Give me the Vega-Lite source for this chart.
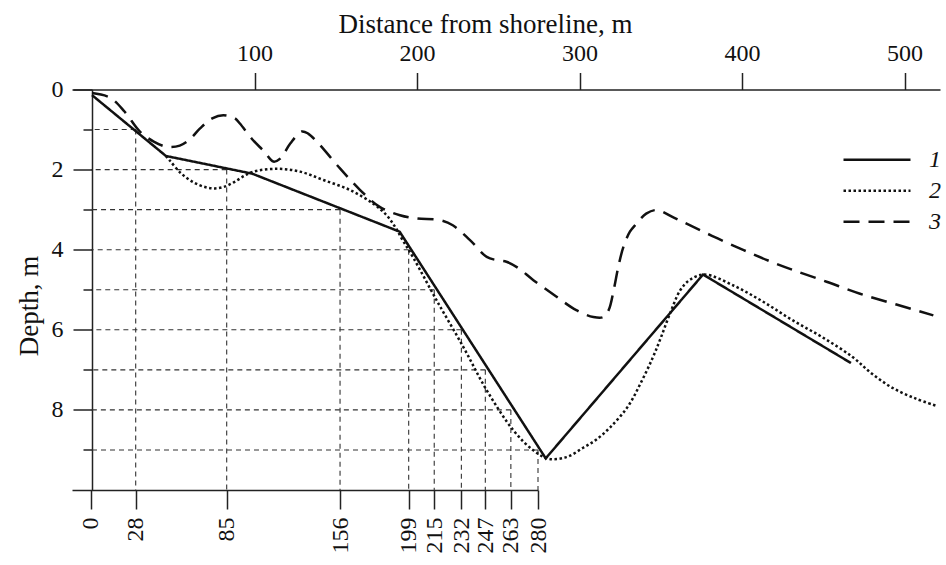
{
  "$schema": "https://vega.github.io/schema/vega-lite/v6.json",
  "width": 868,
  "height": 400.5,
  "autosize": "none",
  "padding": {"left": 72, "top": 89.5, "right": 6, "bottom": 75},
  "background": "white",
  "config": {
    "view": {"stroke": null},
    "font": "Liberation Serif",
    "axis": {
      "labelFont": "Liberation Serif",
      "titleFont": "Liberation Serif",
      "labelColor": "#111",
      "titleColor": "#111",
      "domainColor": "#222",
      "tickColor": "#222",
      "domainWidth": 1.5,
      "tickWidth": 1.5,
      "grid": false,
      "labelFontWeight": "normal",
      "titleFontWeight": "normal",
      "labelFontSize": 24,
      "titleFontSize": 27
    }
  },
  "datasets": {
    "profiles": [
      {"series": "1", "distance": 0, "depth": 0.14},
      {"series": "1", "distance": 45.5, "depth": 1.66},
      {"series": "1", "distance": 98.5, "depth": 2.1},
      {"series": "1", "distance": 189.3, "depth": 3.55},
      {"series": "1", "distance": 279.2, "depth": 9.21},
      {"series": "1", "distance": 376, "depth": 4.62},
      {"series": "1", "distance": 467, "depth": 6.83},

      {"series": "2", "distance": 45.5, "depth": 1.66},
      {"series": "2", "distance": 48, "depth": 1.78},
      {"series": "2", "distance": 55, "depth": 2.1},
      {"series": "2", "distance": 63, "depth": 2.33},
      {"series": "2", "distance": 70, "depth": 2.44},
      {"series": "2", "distance": 75.7, "depth": 2.47},
      {"series": "2", "distance": 82, "depth": 2.42},
      {"series": "2", "distance": 88, "depth": 2.3},
      {"series": "2", "distance": 94, "depth": 2.15},
      {"series": "2", "distance": 99.3, "depth": 2.05},
      {"series": "2", "distance": 113.6, "depth": 1.98},
      {"series": "2", "distance": 128, "depth": 2.05},
      {"series": "2", "distance": 142.4, "depth": 2.26},
      {"series": "2", "distance": 158.8, "depth": 2.51},
      {"series": "2", "distance": 173, "depth": 2.85},
      {"series": "2", "distance": 181.3, "depth": 3.14},
      {"series": "2", "distance": 186.5, "depth": 3.43},
      {"series": "2", "distance": 191, "depth": 3.75},
      {"series": "2", "distance": 197.7, "depth": 4.2},
      {"series": "2", "distance": 212, "depth": 5.26},
      {"series": "2", "distance": 228.5, "depth": 6.43},
      {"series": "2", "distance": 242.9, "depth": 7.51},
      {"series": "2", "distance": 259.3, "depth": 8.51},
      {"series": "2", "distance": 271.6, "depth": 9.01},
      {"series": "2", "distance": 281, "depth": 9.22},
      {"series": "2", "distance": 292, "depth": 9.18},
      {"series": "2", "distance": 302, "depth": 8.95},
      {"series": "2", "distance": 310, "depth": 8.75},
      {"series": "2", "distance": 319, "depth": 8.43},
      {"series": "2", "distance": 330, "depth": 7.9},
      {"series": "2", "distance": 338, "depth": 7.3},
      {"series": "2", "distance": 345, "depth": 6.7},
      {"series": "2", "distance": 350, "depth": 6.2},
      {"series": "2", "distance": 355.7, "depth": 5.59},
      {"series": "2", "distance": 362, "depth": 5.01},
      {"series": "2", "distance": 368, "depth": 4.75},
      {"series": "2", "distance": 377, "depth": 4.62},
      {"series": "2", "distance": 395, "depth": 4.9},
      {"series": "2", "distance": 413, "depth": 5.3},
      {"series": "2", "distance": 431, "depth": 5.76},
      {"series": "2", "distance": 450, "depth": 6.2},
      {"series": "2", "distance": 468, "depth": 6.68},
      {"series": "2", "distance": 480, "depth": 7.1},
      {"series": "2", "distance": 493, "depth": 7.46},
      {"series": "2", "distance": 507, "depth": 7.72},
      {"series": "2", "distance": 519, "depth": 7.89},

      {"series": "3", "distance": 0, "depth": 0.09},
      {"series": "3", "distance": 11, "depth": 0.2},
      {"series": "3", "distance": 20, "depth": 0.55},
      {"series": "3", "distance": 29.5, "depth": 1.05},
      {"series": "3", "distance": 38, "depth": 1.3},
      {"series": "3", "distance": 46, "depth": 1.43},
      {"series": "3", "distance": 54, "depth": 1.4},
      {"series": "3", "distance": 60, "depth": 1.25},
      {"series": "3", "distance": 66.5, "depth": 0.97},
      {"series": "3", "distance": 74, "depth": 0.72},
      {"series": "3", "distance": 80.8, "depth": 0.64},
      {"series": "3", "distance": 88, "depth": 0.72},
      {"series": "3", "distance": 91, "depth": 0.85},
      {"series": "3", "distance": 99, "depth": 1.26},
      {"series": "3", "distance": 106, "depth": 1.55},
      {"series": "3", "distance": 111.6, "depth": 1.8},
      {"series": "3", "distance": 116, "depth": 1.72},
      {"series": "3", "distance": 122, "depth": 1.35},
      {"series": "3", "distance": 129, "depth": 1.05},
      {"series": "3", "distance": 133, "depth": 1.1},
      {"series": "3", "distance": 138.3, "depth": 1.3},
      {"series": "3", "distance": 152.6, "depth": 1.97},
      {"series": "3", "distance": 165, "depth": 2.51},
      {"series": "3", "distance": 177, "depth": 2.93},
      {"series": "3", "distance": 189.5, "depth": 3.14},
      {"series": "3", "distance": 199.8, "depth": 3.22},
      {"series": "3", "distance": 214, "depth": 3.26},
      {"series": "3", "distance": 222, "depth": 3.39},
      {"series": "3", "distance": 232.6, "depth": 3.76},
      {"series": "3", "distance": 242.9, "depth": 4.18},
      {"series": "3", "distance": 249, "depth": 4.26},
      {"series": "3", "distance": 255, "depth": 4.3},
      {"series": "3", "distance": 262, "depth": 4.45},
      {"series": "3", "distance": 271.6, "depth": 4.76},
      {"series": "3", "distance": 285, "depth": 5.15},
      {"series": "3", "distance": 298, "depth": 5.51},
      {"series": "3", "distance": 308.5, "depth": 5.68},
      {"series": "3", "distance": 314.7, "depth": 5.68},
      {"series": "3", "distance": 318, "depth": 5.5},
      {"series": "3", "distance": 321, "depth": 5.01},
      {"series": "3", "distance": 324, "depth": 4.4},
      {"series": "3", "distance": 327, "depth": 3.93},
      {"series": "3", "distance": 331, "depth": 3.55},
      {"series": "3", "distance": 335, "depth": 3.35},
      {"series": "3", "distance": 341, "depth": 3.1},
      {"series": "3", "distance": 347.5, "depth": 3.01},
      {"series": "3", "distance": 358, "depth": 3.2},
      {"series": "3", "distance": 370, "depth": 3.43},
      {"series": "3", "distance": 385, "depth": 3.72},
      {"series": "3", "distance": 401, "depth": 4.01},
      {"series": "3", "distance": 416, "depth": 4.27},
      {"series": "3", "distance": 431.6, "depth": 4.51},
      {"series": "3", "distance": 452, "depth": 4.8},
      {"series": "3", "distance": 472.6, "depth": 5.1},
      {"series": "3", "distance": 495, "depth": 5.37},
      {"series": "3", "distance": 517.7, "depth": 5.64}
    ],
    "levels": [
      {"distance": 28, "depth": 1},
      {"distance": 85, "depth": 2},
      {"distance": 156, "depth": 3},
      {"distance": 199, "depth": 4},
      {"distance": 215, "depth": 5},
      {"distance": 232, "depth": 6},
      {"distance": 247, "depth": 7},
      {"distance": 263, "depth": 8},
      {"distance": 280, "depth": 9}
    ]
  },
  "layer": [
    {
      "data": {"name": "levels"},
      "encoding": {
        "x": {
          "field": "distance",
          "type": "quantitative",
          "scale": {"domain": [-11.9, 280], "range": [0, 466], "nice": false, "zero": false},
          "axis": {
            "orient": "bottom",
            "values": [0, 28, 85, 156, 199, 215, 232, 247, 263, 280],
            "labelAngle": -90,
            "tickSize": 19,
            "labelPadding": 8,
            "labelFlush": false,
            "labelOverlap": false,
            "title": null
          }
        },
        "y": {
          "field": "depth",
          "type": "quantitative",
          "scale": {"domain": [0, 10], "reverse": true, "nice": false, "zero": false},
          "axis": {
            "orient": "left",
            "offset": -20,
            "values": [0, 1, 2, 3, 4, 5, 6, 7, 8, 9],
            "labelExpr": "datum.value % 2 == 0 ? datum.label : ''",
            "tickSize": {"condition": {"test": "datum.value % 2 == 0", "value": 19}, "value": 9},
            "labelPadding": 10,
            "title": "Depth, m",
            "titleAngle": -90,
            "titleX": -49,
            "titleY": 216,
            "titleAlign": "center",
            "titleBaseline": "bottom"
          }
        }
      },
      "layer": [
        {
          "mark": {"type": "rule", "color": "#333", "strokeWidth": 1.1, "strokeDash": [5, 4]},
          "encoding": {"y2": {"datum": 10}}
        },
        {
          "mark": {"type": "rule", "color": "#333", "strokeWidth": 1.1, "strokeDash": [5, 4]},
          "encoding": {"x2": {"datum": 0}}
        }
      ]
    },
    {
      "data": {"name": "profiles"},
      "encoding": {
        "x": {
          "field": "distance",
          "type": "quantitative",
          "scale": {"domain": [-12.3, 521.8], "nice": false, "zero": false},
          "axis": {
            "orient": "top",
            "values": [100, 200, 300, 400, 500],
            "tickSize": 17,
            "labelPadding": 7,
            "labelFlush": false,
            "title": "Distance from shoreline, m",
            "titleX": 413,
            "titleY": -57,
            "titleAlign": "center",
            "titleBaseline": "alphabetic"
          }
        },
        "y": {
          "field": "depth",
          "type": "quantitative",
          "scale": {"domain": [0, 10], "reverse": true, "nice": false, "zero": false},
          "axis": {
            "orient": "left",
            "offset": -20,
            "values": [0, 1, 2, 3, 4, 5, 6, 7, 8, 9],
            "labelExpr": "datum.value % 2 == 0 ? datum.label : ''",
            "tickSize": {"condition": {"test": "datum.value % 2 == 0", "value": 19}, "value": 9},
            "labelPadding": 10,
            "title": "Depth, m",
            "titleAngle": -90,
            "titleX": -49,
            "titleY": 216,
            "titleAlign": "center",
            "titleBaseline": "bottom"
          }
        },
        "strokeDash": {
          "field": "series",
          "type": "nominal",
          "scale": {"domain": ["1", "2", "3"], "range": [[1, 0], [2.5, 2.5], [16, 9]]},
          "legend": {
            "orient": "none",
            "legendX": 770,
            "legendY": 56,
            "title": null,
            "symbolType": "stroke",
            "symbolSize": 4489,
            "symbolStrokeWidth": 2.5,
            "symbolStrokeColor": "#111",
            "clipHeight": 28.5,
            "rowPadding": 2,
            "labelFont": "Liberation Serif",
            "labelFontStyle": "italic",
            "labelFontSize": 24,
            "labelColor": "#111",
            "labelOffset": 17
          }
        }
      },
      "layer": [
        {
          "transform": [{"filter": "datum.series == '1'"}],
          "mark": {"type": "line", "interpolate": "linear", "color": "#111", "strokeWidth": 2.5}
        },
        {
          "transform": [{"filter": "datum.series == '2'"}],
          "mark": {"type": "line", "interpolate": "catmull-rom", "color": "#111", "strokeWidth": 2.5}
        },
        {
          "transform": [{"filter": "datum.series == '3'"}],
          "mark": {"type": "line", "interpolate": "catmull-rom", "color": "#111", "strokeWidth": 2.5}
        }
      ]
    }
  ],
  "resolve": {"scale": {"x": "independent"}, "axis": {"x": "independent"}}
}
